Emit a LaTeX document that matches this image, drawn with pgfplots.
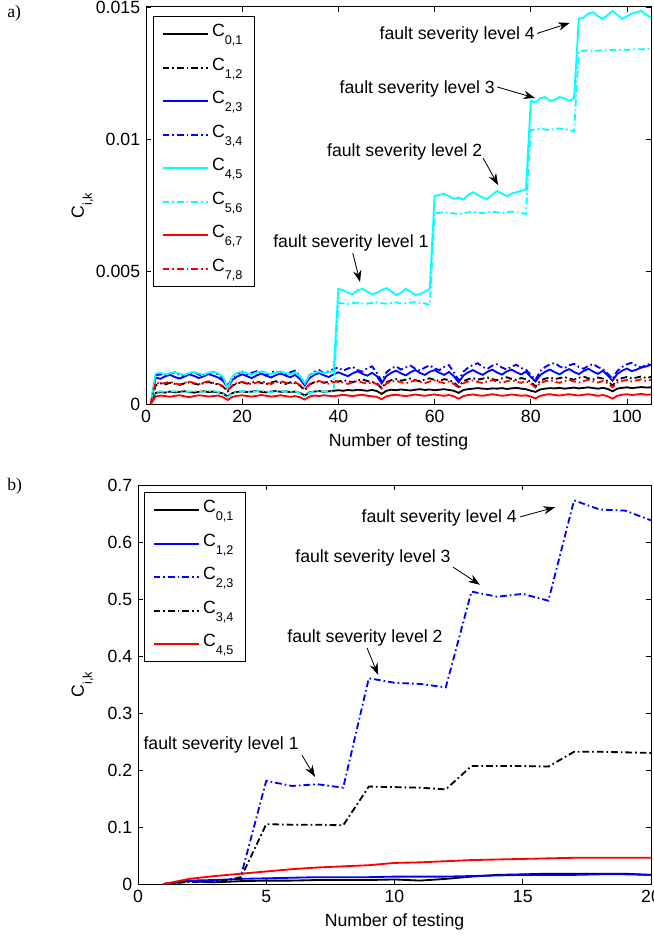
\documentclass[border=0pt]{standalone}
\usepackage{fontspec}
\setmainfont{Liberation Sans}
\newfontfamily\seriffont{Liberation Serif}
\usepackage{pgfplots}
\pgfplotsset{compat=1.18}
\usepackage{pgfplotstable}
\usetikzlibrary{arrows.meta}

\definecolor{mcyan}{rgb}{0,1,1}
\definecolor{mblue}{rgb}{0,0,1}
\definecolor{mred}{rgb}{1,0,0}
\newcommand\mfont{\fontsize{10.6pt}{12.5pt}\selectfont}
\newcommand\sub[1]{\raisebox{-4.8pt}{\fontsize{7.6pt}{8pt}\selectfont #1}}

% top panel, values in units of 1e-3
% x C01 C12 C23 C34 C45 C56 C67 C78
\pgfplotstableread{
x a b c d e f g h
1 0 0 0 0 0 0 0 0
2 0.42 0.70 1.00 1.08 1.15 0.45 0.28 0.82
3 0.45 0.78 0.95 1.12 1.18 0.48 0.32 0.76
4 0.43 0.74 1.05 1.05 1.12 0.44 0.30 0.80
5 0.47 0.80 1.10 1.14 1.16 0.46 0.27 0.84
6 0.44 0.76 1.02 1.20 1.20 0.49 0.31 0.78
7 0.46 0.72 0.96 1.10 1.14 0.45 0.33 0.74
8 0.48 0.78 1.04 1.04 1.10 0.43 0.29 0.80
9 0.45 0.82 1.12 1.15 1.17 0.47 0.26 0.85
10 0.43 0.77 1.06 1.21 1.21 0.50 0.30 0.79
11 0.46 0.73 0.98 1.11 1.15 0.46 0.33 0.75
12 0.48 0.79 1.05 1.05 1.11 0.44 0.31 0.81
13 0.45 0.83 1.13 1.16 1.18 0.48 0.28 0.86
14 0.47 0.78 1.07 1.22 1.22 0.50 0.30 0.80
15 0.44 0.74 1.00 1.12 1.16 0.46 0.32 0.76
16 0.40 0.66 0.88 0.96 1.02 0.38 0.26 0.68
17 0.28 0.48 0.62 0.68 0.60 0.25 0.15 0.50
18 0.42 0.70 0.92 1.02 1.05 0.40 0.27 0.72
19 0.46 0.78 1.04 1.14 1.18 0.47 0.31 0.80
20 0.48 0.82 1.12 1.22 1.22 0.50 0.33 0.84
21 0.45 0.77 1.05 1.12 1.16 0.46 0.30 0.79
22 0.47 0.81 0.98 1.18 1.12 0.44 0.28 0.75
23 0.49 0.85 1.08 1.24 1.19 0.48 0.31 0.81
24 0.46 0.79 1.15 1.13 1.23 0.51 0.34 0.86
25 0.44 0.75 1.07 1.07 1.17 0.47 0.31 0.80
26 0.47 0.81 1.00 1.19 1.12 0.44 0.28 0.76
27 0.49 0.86 1.09 1.25 1.19 0.48 0.30 0.82
28 0.46 0.80 1.16 1.14 1.23 0.51 0.33 0.87
29 0.48 0.76 1.08 1.08 1.17 0.47 0.30 0.81
30 0.45 0.82 1.01 1.20 1.13 0.45 0.27 0.77
31 0.47 0.78 1.10 1.26 1.20 0.49 0.30 0.83
32 0.42 0.70 0.95 1.05 1.05 0.40 0.26 0.72
33 0.32 0.52 0.70 0.76 0.78 0.30 0.17 0.55
34 0.44 0.74 0.98 1.08 1.08 0.42 0.28 0.75
35 0.47 0.82 1.10 1.22 1.18 0.48 0.32 0.83
36 0.49 0.86 1.17 1.28 1.22 0.51 0.30 0.87
37 0.46 0.80 1.08 1.16 1.16 0.47 0.33 0.81
38 0.48 0.84 1.02 1.24 1.20 0.45 0.31 0.77
39 0.50 0.88 1.12 1.32 1.24 0.49 0.29 0.83
40 0.52 0.84 1.20 1.38 4.35 3.82 0.32 0.86
41 0.50 0.90 1.12 1.26 4.30 3.80 0.35 0.80
42 0.53 0.86 1.05 1.34 4.20 3.78 0.32 0.76
43 0.51 0.82 1.16 1.40 4.15 3.81 0.30 0.82
44 0.54 0.89 1.24 1.28 4.30 3.83 0.33 0.87
45 0.52 0.93 1.14 1.22 4.35 3.80 0.35 0.81
46 0.50 0.87 1.07 1.35 4.25 3.79 0.31 0.77
47 0.53 0.83 1.18 1.42 4.15 3.82 0.29 0.83
48 0.49 0.78 1.05 1.18 4.20 3.84 0.27 0.75
49 0.38 0.60 0.78 0.86 4.30 3.81 0.18 0.58
50 0.50 0.82 1.06 1.20 4.38 3.79 0.29 0.78
51 0.54 0.90 1.18 1.35 4.25 3.82 0.33 0.84
52 0.52 0.94 1.26 1.42 4.12 3.84 0.35 0.88
53 0.55 0.88 1.16 1.30 4.20 3.81 0.32 0.82
54 0.53 0.92 1.08 1.38 4.35 3.80 0.30 0.78
55 0.51 0.96 1.20 1.45 4.25 3.83 0.33 0.84
56 0.54 0.90 1.28 1.33 4.12 3.85 0.36 0.89
57 0.56 0.86 1.17 1.26 4.15 3.82 0.33 0.83
58 0.53 0.93 1.10 1.38 4.25 3.80 0.31 0.79
59 0.55 0.97 1.22 1.46 4.35 3.74 0.34 0.85
60 0.52 0.91 1.28 1.34 7.85 7.20 0.36 0.89
61 0.54 0.87 1.18 1.28 7.90 7.22 0.33 0.83
62 0.56 0.94 1.10 1.40 7.95 7.25 0.31 0.79
63 0.53 0.90 1.21 1.47 7.85 7.23 0.34 0.85
64 0.50 0.82 1.05 1.20 7.75 7.20 0.29 0.76
65 0.42 0.64 0.82 0.90 7.80 7.18 0.20 0.60
66 0.53 0.86 1.08 1.22 7.72 7.21 0.30 0.79
67 0.56 0.94 1.20 1.38 7.90 7.24 0.34 0.85
68 0.58 0.98 1.28 1.48 8.00 7.26 0.36 0.89
69 0.60 0.92 1.18 1.54 7.90 7.23 0.33 0.83
70 0.58 0.96 1.10 1.40 7.80 7.21 0.31 0.79
71 0.57 1.00 1.22 1.33 7.75 7.24 0.34 0.85
72 0.59 0.94 1.30 1.45 7.90 7.27 0.37 0.90
73 0.58 0.90 1.19 1.50 8.05 7.24 0.34 0.84
74 0.60 0.97 1.11 1.38 7.95 7.22 0.31 0.80
75 0.57 1.01 1.23 1.30 7.85 7.25 0.33 0.86
76 0.59 0.95 1.30 1.42 7.95 7.27 0.36 0.90
77 0.61 0.91 1.20 1.48 8.00 7.24 0.34 0.84
78 0.58 0.98 1.12 1.36 8.05 7.22 0.31 0.80
79 0.56 0.94 1.22 1.30 8.10 7.18 0.33 0.86
80 0.50 0.84 1.02 1.10 11.45 10.35 0.28 0.77
81 0.46 0.66 0.85 0.92 11.40 10.38 0.21 0.62
82 0.55 0.88 1.10 1.25 11.55 10.40 0.31 0.80
83 0.58 0.96 1.22 1.40 11.60 10.37 0.35 0.86
84 0.60 1.00 1.30 1.50 11.45 10.36 0.37 0.90
85 0.59 0.94 1.20 1.55 11.50 10.39 0.34 0.84
86 0.61 0.98 1.12 1.42 11.60 10.41 0.32 0.80
87 0.58 1.02 1.24 1.35 11.55 10.38 0.35 0.86
88 0.60 0.96 1.32 1.46 11.45 10.36 0.37 0.91
89 0.62 0.92 1.21 1.52 11.55 10.30 0.34 0.85
90 0.59 0.99 1.13 1.40 14.55 13.33 0.32 0.81
91 0.61 1.03 1.25 1.33 14.60 13.35 0.35 0.87
92 0.63 0.97 1.33 1.45 14.75 13.36 0.37 0.91
93 0.60 0.93 1.22 1.51 14.80 13.34 0.34 0.85
94 0.58 1.00 1.14 1.39 14.65 13.35 0.31 0.81
95 0.61 0.96 1.26 1.32 14.55 13.37 0.34 0.87
96 0.57 0.86 1.08 1.15 14.70 13.36 0.29 0.78
97 0.48 0.70 0.88 0.95 14.85 13.38 0.20 0.63
98 0.58 0.90 1.14 1.25 14.70 13.37 0.31 0.81
99 0.61 0.98 1.26 1.40 14.55 13.39 0.35 0.87
100 0.63 1.02 1.34 1.50 14.65 13.38 0.37 0.91
101 0.60 0.96 1.24 1.56 14.75 13.40 0.34 0.85
102 0.62 1.00 1.30 1.44 14.80 13.41 0.36 0.89
103 0.64 1.04 1.38 1.38 14.85 13.40 0.38 0.93
104 0.62 0.98 1.42 1.48 14.70 13.42 0.35 0.87
105 0.63 1.02 1.48 1.52 14.60 13.42 0.36 0.91
}\toptable

% bottom panel
% x C01 C12 C23 C34 C45
\pgfplotstableread{
x a b c d e
1 0 0 0 0 0
2 0.005 0.006 0.004 0.004 0.009
3 0.003 0.007 0.003 0.004 0.014
4 0.005 0.009 0.012 0.010 0.018
5 0.006 0.010 0.181 0.105 0.022
6 0.006 0.011 0.172 0.104 0.026
7 0.007 0.012 0.175 0.104 0.029
8 0.007 0.012 0.169 0.103 0.031
9 0.007 0.012 0.361 0.171 0.033
10 0.008 0.013 0.353 0.170 0.037
11 0.006 0.013 0.351 0.169 0.038
12 0.009 0.013 0.345 0.166 0.040
13 0.013 0.014 0.513 0.207 0.042
14 0.016 0.015 0.504 0.207 0.043
15 0.017 0.016 0.509 0.207 0.044
16 0.018 0.016 0.497 0.206 0.045
17 0.018 0.016 0.673 0.232 0.046
18 0.018 0.017 0.657 0.232 0.046
19 0.018 0.017 0.655 0.231 0.046
20 0.016 0.016 0.638 0.230 0.046
}\bottable

\tikzset{
  dd/.style={dash pattern=on 4pt off 1.8pt on 1pt off 1.8pt},
  note/.style={font=\mfont, inner sep=0pt},
  arr/.style={-{Stealth[length=7pt,width=5pt]}, line width=0.5pt},
}
\pgfplotsset{
  matlab/.style={
    scale only axis,
    anchor=south west,
    axis line style={black, line width=0.6pt},
    tick align=inside,
    major tick length=3pt,
    tick style={black, line width=0.5pt},
    /pgf/number format/assume math mode=true,
    tick label style={font=\mfont},
    label style={font=\mfont},
    legend cell align=left,
    legend style={draw=black, line width=0.6pt, fill=white, font=\mfont,
      anchor=north west, inner xsep=5pt, inner ysep=3pt, row sep=5.1pt,
      nodes={inner ysep=0pt, text height=9pt, text depth=6pt}},
    legend image code/.code={\draw[##1] (0pt,0pt) -- (27pt,0pt);},
    every axis plot/.append style={line width=1.1pt},
  },
}

\begin{document}
\begin{tikzpicture}
\path[use as bounding box] (0,0) rectangle (391.8pt,-561.6pt);

\node[font=\seriffont\mfont, anchor=north west, inner sep=0pt] at (4.2pt,-3pt) {a)};
\node[font=\seriffont\mfont, anchor=north west, inner sep=0pt] at (4.2pt,-286.8pt) {b)};

\begin{axis}[matlab,
  at={(87.6pt,-242.4pt)}, width=303pt, height=238.2pt,
  xmin=0, xmax=105, ymin=0, ymax=15,
  xtick={0,20,40,60,80,100},
  ytick={0,5,10,15}, yticklabels={0,0.005,0.01,0.015},
  xlabel={Number of testing},
  ylabel={C\sub{i,k}},
  ylabel style={at={(axis description cs:-0.1257,0.5)}, anchor=center},
  legend style={at={(axis description cs:0.0139,0.977)}},
]
\addplot[black] table[x=x,y=a] {\toptable};
\addlegendentry{C\sub{0,1}}
\addplot[black,dd] table[x=x,y=b] {\toptable};
\addlegendentry{C\sub{1,2}}
\addplot[mblue] table[x=x,y=c] {\toptable};
\addlegendentry{C\sub{2,3}}
\addplot[mblue,dd] table[x=x,y=d] {\toptable};
\addlegendentry{C\sub{3,4}}
\addplot[mcyan] table[x=x,y=e] {\toptable};
\addlegendentry{C\sub{4,5}}
\addplot[mcyan,dd] table[x=x,y=f] {\toptable};
\addlegendentry{C\sub{5,6}}
\addplot[mred] table[x=x,y=g] {\toptable};
\addlegendentry{C\sub{6,7}}
\addplot[mred,dd] table[x=x,y=h] {\toptable};
\addlegendentry{C\sub{7,8}}

\node[note, anchor=east] at (axis cs:80.9,13.94) {fault severity level 4};
\draw[arr] (axis cs:81.3,14.0) -- (axis cs:88.1,14.4);
\node[note, anchor=east] at (axis cs:72.6,11.9) {fault severity level 3};
\draw[arr] (axis cs:73.0,11.98) -- (axis cs:80.9,11.56);
\node[note] at (axis cs:53.8,9.52) {fault severity level 2};
\draw[arr] (axis cs:70.1,9.29) -- (axis cs:73.2,8.27);
\node[note] at (axis cs:42.6,6.08) {fault severity level 1};
\draw[arr] (axis cs:43.0,5.70) -- (axis cs:44.5,4.61);
\end{axis}

\begin{axis}[matlab,
  at={(82.8pt,-530.4pt)}, width=307.8pt, height=239.4pt,
  xmin=0, xmax=20, ymin=0, ymax=0.7,
  xtick={0,5,10,15,20},
  ytick={0,0.1,0.2,0.3,0.4,0.5,0.6,0.7},
  xlabel={Number of testing},
  ylabel={C\sub{i,k}},
  ylabel style={at={(axis description cs:-0.108,0.5)}, anchor=center},
  legend style={at={(axis description cs:0.0117,0.982)}},
]
\addplot[black] table[x=x,y=a] {\bottable};
\addlegendentry{C\sub{0,1}}
\addplot[mblue] table[x=x,y=b] {\bottable};
\addlegendentry{C\sub{1,2}}
\addplot[mblue,dd] table[x=x,y=c] {\bottable};
\addlegendentry{C\sub{2,3}}
\addplot[black,dd] table[x=x,y=d] {\bottable};
\addlegendentry{C\sub{3,4}}
\addplot[mred] table[x=x,y=e] {\bottable};
\addlegendentry{C\sub{4,5}}

\node[note, anchor=east] at (axis cs:14.78,0.642) {fault severity level 4};
\draw[arr] (axis cs:14.9,0.644) -- (axis cs:16.26,0.661);
\node[note] at (axis cs:9.16,0.572) {fault severity level 3};
\draw[arr] (axis cs:12.28,0.556) -- (axis cs:13.33,0.525);
\node[note] at (axis cs:8.85,0.432) {fault severity level 2};
\draw[arr] (axis cs:8.93,0.414) -- (axis cs:9.36,0.367);
\node[note] at (axis cs:3.24,0.244) {fault severity level 1};
\draw[arr] (axis cs:6.39,0.226) -- (axis cs:6.9,0.188);
\end{axis}
\end{tikzpicture}
\end{document}
